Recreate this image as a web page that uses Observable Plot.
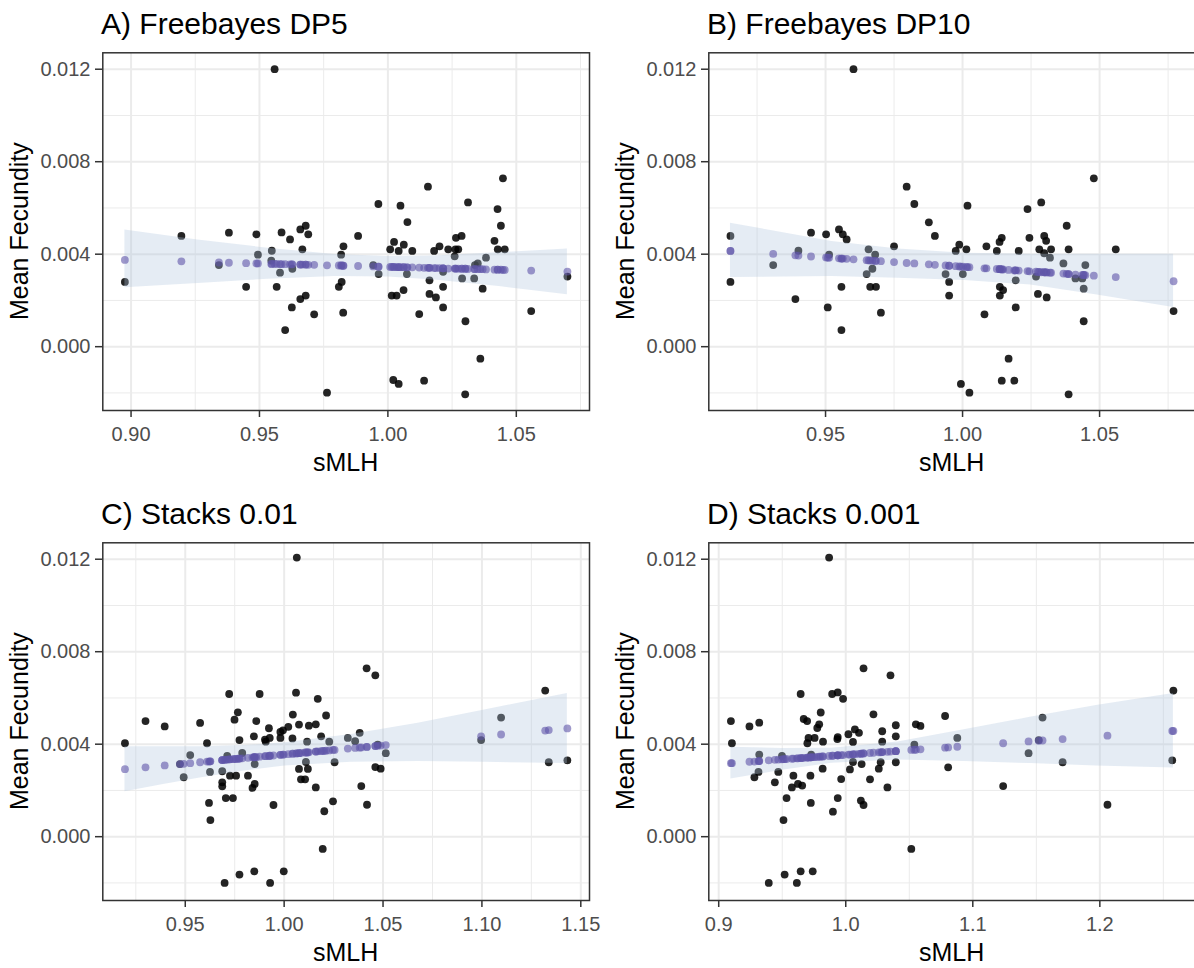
<!DOCTYPE html>
<html>
<head>
<meta charset="utf-8">
<script src="https://cdn.jsdelivr.net/npm/d3@7"></script>
<script src="https://cdn.jsdelivr.net/npm/@observablehq/plot@0.6"></script>
<style>
html, body { margin: 0; padding: 0; background: #ffffff; overflow: hidden; }
#root { position: relative; width: 1194px; height: 968px; overflow: hidden; background: #ffffff; }
</style>
</head>
<body>
<div id="root"></div>
<script>
// ---------- Data ----------
const titles = ["A) Freebayes DP5", "B) Freebayes DP10", "C) Stacks 0.01", "D) Stacks 0.001"];
const xTitle = "sMLH";
const yTitle = "Mean Fecundity";

const yTicks = [0.000, 0.004, 0.008, 0.012];
const yMinor = [-0.002, 0.002, 0.006, 0.010];

// Panel A
const aX = [0.9559,0.9196,0.8976,0.9381,0.9488,0.9494,0.9342,0.9448,0.9586,0.9619,0.9659,0.9680,0.9690,0.9667,0.9548,0.9546,0.9580,0.9567,0.9680,0.9659,0.9626,0.9600,0.9713,0.9628,0.9763,0.9827,0.9818,0.9809,0.9820,0.9826,0.9884,0.9943,0.9963,0.9964,1.0009,1.0024,1.0042,1.0049,1.0062,1.0076,1.0095,1.0074,1.0061,1.0015,1.0034,1.0021,1.0042,1.0122,1.0141,1.0156,1.0162,1.0162,1.0187,1.0180,1.0201,1.0215,1.0215,1.0215,1.0235,1.0263,1.0265,1.0287,1.0274,1.0260,1.0312,1.0289,1.0302,1.0301,1.0336,1.0339,1.0369,1.0360,1.0382,1.0415,1.0427,1.0440,1.0448,1.0428,1.0455,1.0558,1.0699,1.0350];
const aY = [0.01200,0.00479,0.00280,0.00493,0.00486,0.00398,0.00353,0.00259,0.00494,0.00464,0.00507,0.00523,0.00486,0.00421,0.00415,0.00372,0.00320,0.00259,0.00221,0.00206,0.00170,0.00072,0.00140,0.00337,-0.00199,0.00434,0.00398,0.00259,0.00280,0.00147,0.00479,0.00353,0.00617,0.00314,0.00421,0.00453,0.00414,0.00610,0.00441,0.00539,0.00414,0.00314,0.00245,0.00221,0.00221,-0.00144,-0.00161,0.00141,-0.00147,0.00692,0.00287,0.00228,0.00213,0.00414,0.00434,0.00259,0.00170,0.00324,0.00421,0.00421,0.00471,0.00479,0.00421,0.00391,0.00624,0.00295,0.00110,-0.00206,0.00295,0.00353,0.00251,-0.00052,0.00385,0.00458,0.00595,0.00523,0.00728,0.00421,0.00421,0.00154,0.00303,0.00360];
const aFit = [0.00358,0.00369,0.00375,0.00363,0.00360,0.00360,0.00364,0.00361,0.00357,0.00356,0.00355,0.00355,0.00354,0.00355,0.00358,0.00358,0.00357,0.00358,0.00355,0.00355,0.00356,0.00357,0.00354,0.00356,0.00352,0.00350,0.00351,0.00351,0.00351,0.00350,0.00349,0.00347,0.00346,0.00346,0.00345,0.00345,0.00344,0.00344,0.00344,0.00343,0.00343,0.00343,0.00344,0.00345,0.00344,0.00345,0.00344,0.00342,0.00341,0.00341,0.00341,0.00341,0.00340,0.00340,0.00340,0.00339,0.00339,0.00339,0.00338,0.00338,0.00338,0.00337,0.00337,0.00338,0.00336,0.00337,0.00337,0.00337,0.00336,0.00335,0.00335,0.00335,0.00334,0.00333,0.00333,0.00333,0.00332,0.00333,0.00332,0.00329,0.00325,0.00335];
const aBandX  = [0.8976, 0.9260, 0.9533, 0.9793, 1.0000, 1.0182, 1.0442, 1.0699];
const aBandHi = [0.00505, 0.00461, 0.00426, 0.00399, 0.00390, 0.00392, 0.00407, 0.00423];
const aBandLo = [0.00255, 0.00273, 0.00292, 0.00303, 0.00301, 0.00288, 0.00259, 0.00225];
const aTicks = [0.90, 0.95, 1.00, 1.05];
const aMinor = [0.925, 0.975, 1.025, 1.075];

// Panel B
const bX = [0.9602,0.9153,0.9153,0.9309,0.9390,0.9401,0.9447,0.9502,0.9513,0.9508,0.9549,0.9563,0.9577,0.9558,0.9558,0.9657,0.9650,0.9671,0.9681,0.9663,0.9684,0.9702,0.9750,0.9796,0.9824,0.9877,0.9899,0.9938,0.9951,0.9951,0.9975,0.9988,1.0001,1.0014,1.0018,0.9994,1.0025,1.0080,1.0087,1.0125,1.0135,1.0143,1.0136,1.0148,1.0136,1.0143,1.0168,1.0189,1.0194,1.0194,1.0205,1.0237,1.0244,1.0268,1.0275,1.0280,1.0287,1.0298,1.0305,1.0298,1.0307,1.0323,1.0319,1.0368,1.0380,1.0387,1.0387,1.0412,1.0437,1.0442,1.0448,1.0442,1.0479,1.0559,1.0770];
const bY = [0.01200,0.00479,0.00280,0.00353,0.00206,0.00415,0.00493,0.00486,0.00398,0.00170,0.00507,0.00486,0.00464,0.00259,0.00072,0.00421,0.00314,0.00337,0.00398,0.00259,0.00259,0.00147,0.00434,0.00692,0.00617,0.00538,0.00479,0.00314,0.00280,0.00221,0.00414,0.00441,0.00314,0.00421,0.00610,-0.00161,-0.00199,0.00140,0.00434,0.00414,0.00453,0.00471,0.00259,0.00245,0.00221,-0.00147,-0.00052,-0.00147,0.00287,0.00170,0.00414,0.00595,0.00471,0.00303,0.00228,0.00421,0.00624,0.00479,0.00458,0.00404,0.00213,0.00421,0.00385,0.00360,0.00523,0.00421,-0.00206,0.00295,0.00295,0.00251,0.00353,0.00110,0.00728,0.00421,0.00154];
const bFit = [0.00378,0.00414,0.00414,0.00401,0.00395,0.00394,0.00390,0.00386,0.00385,0.00385,0.00382,0.00381,0.00380,0.00381,0.00381,0.00373,0.00374,0.00372,0.00371,0.00373,0.00371,0.00370,0.00366,0.00362,0.00360,0.00356,0.00354,0.00351,0.00350,0.00350,0.00348,0.00347,0.00346,0.00345,0.00344,0.00346,0.00344,0.00339,0.00339,0.00336,0.00335,0.00334,0.00335,0.00334,0.00335,0.00334,0.00332,0.00330,0.00330,0.00330,0.00329,0.00327,0.00326,0.00324,0.00323,0.00323,0.00322,0.00322,0.00321,0.00322,0.00321,0.00320,0.00320,0.00316,0.00315,0.00314,0.00314,0.00312,0.00310,0.00310,0.00309,0.00310,0.00307,0.00301,0.00283];
const bBandX  = [0.9153, 0.9523, 0.9765, 1.0007, 1.0249, 1.0491, 1.0770];
const bBandHi = [0.00534, 0.00455, 0.00422, 0.00404, 0.00400, 0.00400, 0.00400];
const bBandLo = [0.00299, 0.00303, 0.00296, 0.00286, 0.00267, 0.00224, 0.00170];
const bTicks = [0.95, 1.00, 1.05];
const bMinor = [0.925, 0.975, 1.025, 1.075];

// Panel C
const cX = [1.0064,0.9195,0.9299,0.9396,0.9473,0.9492,0.9525,0.9575,0.9610,0.9625,0.9620,0.9627,0.9687,0.9687,0.9687,0.9705,0.9722,0.9712,0.9726,0.9741,0.9749,0.9766,0.9757,0.9774,0.9699,0.9774,0.9817,0.9840,0.9851,0.9847,0.9851,0.9859,0.9876,0.9849,0.9903,0.9907,0.9923,0.9927,0.9929,0.9946,0.9981,0.9994,0.9981,0.9998,1.0021,1.0044,1.0042,1.0060,1.0075,1.0075,1.0085,1.0106,1.0120,1.0116,1.0110,1.0125,1.0160,1.0160,1.0170,1.0187,1.0203,1.0195,1.0212,1.0228,1.0247,1.0255,1.0322,1.0359,1.0382,1.0390,1.0417,1.0419,1.0461,1.0461,1.0488,1.0514,1.0996,1.1097,1.1320,1.1338,1.1432,1.0473,0.9788];
const cY = [0.01207,0.00404,0.00500,0.00477,0.00314,0.00257,0.00353,0.00492,0.00404,0.00280,0.00146,0.00072,0.00283,0.00235,0.00218,0.00167,0.00617,0.00349,0.00264,0.00167,0.00506,0.00538,0.00264,0.00418,-0.00200,-0.00164,0.00264,0.00211,0.00228,0.00434,0.00314,0.00500,0.00617,-0.00150,0.00420,0.00411,0.00469,0.00427,-0.00200,0.00137,0.00453,0.00460,0.00427,-0.00150,0.00475,0.00528,0.00425,0.00623,0.00485,0.00293,0.00248,0.00248,0.00293,0.00411,0.00323,0.00480,0.00486,0.00213,0.00596,0.00434,0.00110,-0.00053,0.00524,0.00411,0.00153,0.00322,0.00427,0.00413,0.00449,0.00219,0.00728,0.00138,0.00698,0.00301,0.00294,0.00361,0.00418,0.00515,0.00632,0.00322,0.00330,0.00398,0.00362];
const cFit = [0.00360,0.00292,0.00300,0.00308,0.00314,0.00315,0.00318,0.00322,0.00325,0.00326,0.00325,0.00326,0.00331,0.00331,0.00331,0.00332,0.00334,0.00333,0.00334,0.00335,0.00336,0.00337,0.00336,0.00338,0.00332,0.00338,0.00341,0.00343,0.00344,0.00343,0.00344,0.00344,0.00346,0.00343,0.00348,0.00348,0.00349,0.00350,0.00350,0.00351,0.00354,0.00355,0.00354,0.00355,0.00357,0.00359,0.00359,0.00360,0.00361,0.00361,0.00362,0.00364,0.00365,0.00364,0.00364,0.00365,0.00368,0.00368,0.00369,0.00370,0.00371,0.00371,0.00372,0.00373,0.00375,0.00375,0.00381,0.00384,0.00385,0.00386,0.00388,0.00388,0.00392,0.00392,0.00394,0.00396,0.00434,0.00442,0.00459,0.00461,0.00468,0.00393,0.00339];
const cBandX  = [0.9195, 0.9390, 0.9582, 0.9800, 1.0003, 1.0340, 1.0677, 1.1014, 1.1432];
const cBandHi = [0.00389, 0.00389, 0.00389, 0.00394, 0.00406, 0.00442, 0.00491, 0.00548, 0.00619];
const cBandLo = [0.00194, 0.00226, 0.00255, 0.00284, 0.00306, 0.00322, 0.00325, 0.00322, 0.00316];
const cTicks = [0.95, 1.00, 1.05, 1.10, 1.15];
const cMinor = [0.925, 0.975, 1.025, 1.075, 1.125];

// Panel D
const dX = [0.9869,0.9096,0.9104,0.9242,0.9319,0.9319,0.9281,0.9313,0.9442,0.9469,0.9498,0.9534,0.9510,0.9394,0.9519,0.9615,0.9645,0.9740,0.9588,0.9576,0.9624,0.9657,0.9645,0.9669,0.9696,0.9707,0.9698,0.9722,0.9725,0.9755,0.9776,0.9791,0.9803,0.9821,0.9818,0.9728,0.9893,0.9937,0.9937,0.9934,0.9979,0.9899,0.9937,0.9964,1.0021,1.0033,1.0057,1.0072,1.0104,1.0057,1.0125,1.0119,1.0140,1.0140,1.0191,1.0218,1.0260,1.0275,1.0287,1.0287,1.0328,1.0352,1.0394,1.0394,1.0394,1.0516,1.0540,1.0552,1.0588,1.0782,1.0806,1.0878,1.1239,1.1439,1.1519,1.1549,1.1707,1.2060,1.2579,1.2570];
const dY = [0.01207,0.00500,0.00404,0.00477,0.00493,0.00355,0.00257,0.00280,0.00235,0.00280,0.00349,0.00167,0.00072,-0.00200,-0.00164,-0.00200,-0.00150,-0.00150,0.00264,0.00213,0.00228,0.00221,0.00617,0.00509,0.00500,0.00427,0.00404,0.00264,0.00146,0.00427,0.00470,0.00486,0.00537,0.00411,0.00294,0.00355,0.00617,0.00624,0.00431,0.00422,0.00596,0.00108,0.00167,0.00249,0.00443,0.00291,0.00410,0.00464,0.00449,0.00323,0.00314,0.00156,0.00137,0.00728,0.00248,0.00529,0.00294,0.00322,0.00456,0.00411,0.00213,0.00698,0.00482,0.00434,0.00322,-0.00053,0.00398,0.00486,0.00479,0.00522,0.00300,0.00427,0.00219,0.00361,0.00418,0.00515,0.00322,0.00138,0.00632,0.00330];
const dFit = [0.00349,0.00318,0.00318,0.00324,0.00327,0.00327,0.00325,0.00327,0.00332,0.00333,0.00334,0.00336,0.00335,0.00330,0.00335,0.00339,0.00340,0.00344,0.00338,0.00337,0.00339,0.00340,0.00340,0.00341,0.00342,0.00342,0.00342,0.00343,0.00343,0.00344,0.00345,0.00346,0.00346,0.00347,0.00347,0.00343,0.00350,0.00352,0.00352,0.00352,0.00353,0.00350,0.00352,0.00353,0.00355,0.00355,0.00356,0.00357,0.00358,0.00356,0.00359,0.00359,0.00360,0.00360,0.00362,0.00363,0.00365,0.00365,0.00366,0.00366,0.00367,0.00368,0.00370,0.00370,0.00370,0.00375,0.00376,0.00376,0.00378,0.00385,0.00386,0.00389,0.00404,0.00412,0.00415,0.00416,0.00422,0.00437,0.00457,0.00457];
const dBandX  = [0.9096, 0.9500, 0.9889, 1.0410, 1.0932, 1.1452, 1.1973, 1.2579];
const dBandHi = [0.00387, 0.00381, 0.00383, 0.00410, 0.00462, 0.00516, 0.00567, 0.00619];
const dBandLo = [0.00249, 0.00287, 0.00318, 0.00332, 0.00325, 0.00316, 0.00306, 0.00297];
const dTicks = [0.9, 1.0, 1.1, 1.2];
const dMinor = [0.95, 1.05, 1.15, 1.25];

// ---------- Layout ----------
const FONT = '"Liberation Sans", Arial, Helvetica, sans-serif';
const PW = 600, PH = 490;
const ML = 102.3, MR = 11, MT = 52.3, MB = 80;
const yDomain = [-0.00276, 0.01271];

const panels = [
  {title: titles[0], x: aX, y: aY, fit: aFit, bx: aBandX, hi: aBandHi, lo: aBandLo, ticks: aTicks, minor: aMinor, domain: [0.8890, 1.0785], fmt: d3.format(".2f"), ox: 0,   oy: 0},
  {title: titles[1], x: bX, y: bY, fit: bFit, bx: bBandX, hi: bBandHi, lo: bBandLo, ticks: bTicks, minor: bMinor, domain: [0.9074, 1.0850], fmt: d3.format(".2f"), ox: 606, oy: 0},
  {title: titles[2], x: cX, y: cY, fit: cFit, bx: cBandX, hi: cBandHi, lo: cBandLo, ticks: cTicks, minor: cMinor, domain: [0.9083, 1.1544], fmt: d3.format(".2f"), ox: 0,   oy: 490},
  {title: titles[3], x: dX, y: dY, fit: dFit, bx: dBandX, hi: dBandHi, lo: dBandLo, ticks: dTicks, minor: dMinor, domain: [0.8922, 1.2753], fmt: d3.format(".1f"), ox: 606, oy: 490}
];

const root = document.getElementById("root");

function drawPanel(p) {
  const pts = p.x.map((x, i) => ({x, y: p.y[i], f: p.fit[i]}));
  const band = p.bx.map((x, i) => ({x, lo: p.lo[i], hi: p.hi[i]}));
  const gridStyle = {stroke: "#ebebeb", strokeOpacity: 1};
  const svg = Plot.plot({
    width: PW, height: PH,
    marginLeft: ML, marginRight: MR, marginTop: MT, marginBottom: MB,
    style: {fontFamily: FONT, background: "transparent", overflow: "visible"},
    x: {domain: p.domain},
    y: {domain: yDomain},
    marks: [
      Plot.gridX(p.minor, {...gridStyle, strokeWidth: 1}),
      Plot.gridY(yMinor, {...gridStyle, strokeWidth: 1}),
      Plot.gridX(p.ticks, {...gridStyle, strokeWidth: 2}),
      Plot.gridY(yTicks, {...gridStyle, strokeWidth: 2}),
      Plot.dot(pts, {x: "x", y: "y", r: 3.9, fill: "#000000", fillOpacity: 0.86}),
      Plot.areaY(band, {x: "x", y1: "lo", y2: "hi", fill: "#b0c4de", fillOpacity: 0.33, curve: "linear"}),
      Plot.dot(pts, {x: "x", y: "f", r: 3.9, fill: "#5f55a8", fillOpacity: 0.6}),
      Plot.frame({stroke: "#333333", strokeWidth: 1.5}),
      Plot.axisX(p.ticks, {tickFormat: p.fmt, tickSize: 7, tickPadding: 9, fontSize: 20, fill: "#4d4d4d", stroke: "#333333", strokeWidth: 1.5, label: null}),
      Plot.axisY(yTicks, {tickFormat: d3.format(".3f"), tickSize: 7.3, tickPadding: 5, fontSize: 20, fill: "#4d4d4d", stroke: "#333333", strokeWidth: 1.5, label: null})
    ]
  });
  svg.style.position = "absolute";
  svg.style.left = p.ox + "px";
  svg.style.top = p.oy + "px";
  root.appendChild(svg);
}

panels.forEach(drawPanel);

// ---------- Titles and axis titles ----------
const overlay = d3.create("svg")
  .attr("width", 1194).attr("height", 968)
  .style("position", "absolute").style("left", "0px").style("top", "0px")
  .style("pointer-events", "none")
  .style("font-family", FONT);

panels.forEach(p => {
  overlay.append("text")
    .attr("x", p.ox + 101).attr("y", p.oy + 34.3)
    .attr("font-size", 30).attr("fill", "#000")
    .text(p.title);
  overlay.append("text")
    .attr("x", p.ox + ML + (PW - ML - MR) / 2).attr("y", p.oy + 471)
    .attr("font-size", 25).attr("fill", "#000").attr("text-anchor", "middle")
    .text(xTitle);
  overlay.append("text")
    .attr("transform", `translate(${p.ox + 28},${p.oy + MT + (PH - MT - MB) / 2}) rotate(-90)`)
    .attr("font-size", 25).attr("fill", "#000").attr("text-anchor", "middle")
    .text(yTitle);
});

root.appendChild(overlay.node());
</script>
</body>
</html>
